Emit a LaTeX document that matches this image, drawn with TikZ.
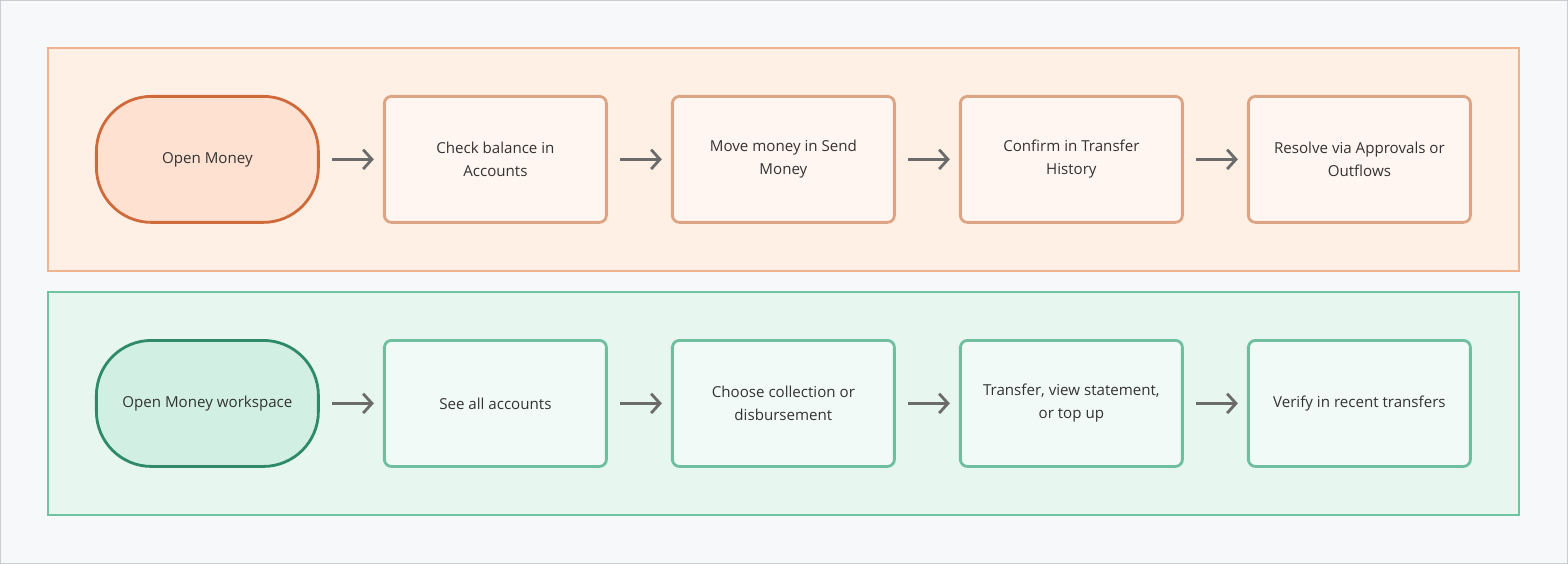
\documentclass[tikz,border=0pt]{standalone}
\usepackage{fontspec}
\setmainfont{Open Sans}
\usetikzlibrary{arrows.meta, positioning}
\definecolor{bgGray}{HTML}{F7F8FA}
\definecolor{bgLine}{HTML}{C9CCD1}
\definecolor{orBand}{HTML}{FFF0E6}
\definecolor{orBandLine}{HTML}{F0B38E}
\definecolor{orStart}{HTML}{FFE1D2}
\definecolor{orStartLine}{HTML}{CF6B3B}
\definecolor{orBox}{HTML}{FFF6F1}
\definecolor{orBoxLine}{HTML}{DDA483}
\definecolor{grBand}{HTML}{E7F6EF}
\definecolor{grBandLine}{HTML}{6FC4A1}
\definecolor{grStart}{HTML}{D1F0E3}
\definecolor{grStartLine}{HTML}{2F8A69}
\definecolor{grBox}{HTML}{F1FAF6}
\definecolor{grBoxLine}{HTML}{6DBF9F}
\definecolor{arrGray}{HTML}{6B6B6B}
\tikzset{
    stepbox/.style={draw, rounded corners=4pt, line width=1.6pt, outer sep=0pt,
        minimum width=4.44cm, minimum height=2.52cm, align=center,
        font=\fontsize{8.6}{13}\selectfont, text=black!80},
    startbox/.style={stepbox, rounded corners=1.1cm},
    flow/.style={-{Straight Barb[length=5pt,width=11pt]}, line width=1.6pt, draw=arrGray, shorten <=8pt, shorten >=6pt}
}
\begin{document}
\begin{tikzpicture}[x=0.02cm, y=-0.02cm, node distance=1.32cm]
    \draw[bgLine, fill=bgGray] (0.5,0.5) rectangle (1567.5,563.5);
    \draw[orBandLine, fill=orBand, line width=0.8pt] (48,48) rectangle (1519,271);
    \draw[grBandLine, fill=grBand, line width=0.8pt] (48,292) rectangle (1519,515);
    % top row
    \node[startbox, fill=orStart, draw=orStartLine] (oStart) at (207.5,159.5) {Open Money};
    \node[stepbox, fill=orBox, draw=orBoxLine, right=of oStart] (oAcc) {Check balance in\\Accounts};
    \node[stepbox, fill=orBox, draw=orBoxLine, right=of oAcc] (oSend) {Move money in Send\\Money};
    \node[stepbox, fill=orBox, draw=orBoxLine, right=of oSend] (oHist) {Confirm in Transfer\\History};
    \node[stepbox, fill=orBox, draw=orBoxLine, right=of oHist] (oRes) {Resolve via Approvals or\\Outflows};
    % bottom row
    \node[startbox, fill=grStart, draw=grStartLine] (gStart) at (207.5,403.5) {Open Money workspace};
    \node[stepbox, fill=grBox, draw=grBoxLine, right=of gStart] (gAcc) {See all accounts};
    \node[stepbox, fill=grBox, draw=grBoxLine, right=of gAcc] (gKind) {Choose collection or\\disbursement};
    \node[stepbox, fill=grBox, draw=grBoxLine, right=of gKind] (gAct) {Transfer, view statement,\\or top up};
    \node[stepbox, fill=grBox, draw=grBoxLine, right=of gAct] (gVer) {Verify in recent transfers};
    \foreach \a/\b in {oStart/oAcc, oAcc/oSend, oSend/oHist, oHist/oRes,
                       gStart/gAcc, gAcc/gKind, gKind/gAct, gAct/gVer}
        \draw[flow] (\a) -- (\b);
\end{tikzpicture}
\end{document}
